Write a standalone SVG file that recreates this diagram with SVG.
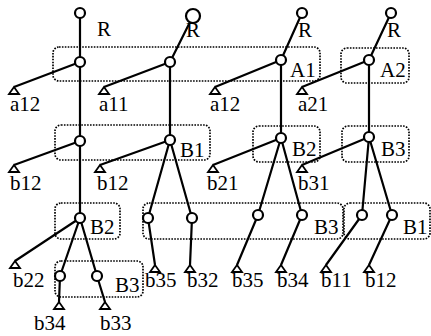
<svg xmlns="http://www.w3.org/2000/svg" xmlns:xlink="http://www.w3.org/1999/xlink" width="431" height="336" viewBox="0 0 431 336">
<style>
.box{fill:none;stroke:#000;stroke-width:1.7;stroke-dasharray:1.6 1.3}
.e{stroke:#000;stroke-width:2.2;fill:none}
.n{fill:#fff;stroke:#000;stroke-width:2.2}
.lf{fill:#fff;stroke:#000;stroke-width:1.8}
text{font-family:"Liberation Serif","Times New Roman",serif;font-size:21px;fill:#000}
</style>
<defs>
<path id="tri" class="lf" d="M0,0 L-5,7 L5,7 Z"/>
</defs>
<rect width="431" height="336" fill="#fff"/>
<g id="boxes">
<rect class="box" x="53" y="47" width="267" height="34" rx="6"/>
<rect class="box" x="341" y="48" width="68" height="35" rx="6"/>
<rect class="box" x="55" y="125" width="155" height="35" rx="6"/>
<rect class="box" x="253" y="126" width="67" height="36" rx="6"/>
<rect class="box" x="342" y="126" width="67" height="36" rx="6"/>
<rect class="box" x="55" y="203" width="65" height="36" rx="6"/>
<rect class="box" x="143" y="203" width="200" height="36" rx="6"/>
<rect class="box" x="344" y="203" width="86" height="36" rx="6"/>
<rect class="box" x="55" y="261" width="88" height="36" rx="6"/>
</g>
<g id="connectors">
<path class="e" d="M80,13V62M80,62L14,87M80,62V141M80,141L14,165M80,141V218M80,218L15,261M80,218L60,276M80,218L97,276M60,276L59,302M97,276L105,302"/>
<path class="e" d="M193,16L170,62M170,62L104,87M170,62V140M170,140L100,165M170,140L148,218M170,140L192,218M148,218L155,265M192,218L190,265"/>
<path class="e" d="M302,13L281,60M281,60L215,87M281,60V138M281,138L213,165M281,138L258,215M281,138L302,215M258,215L237,265M302,215L281,265"/>
<path class="e" d="M391,13L369,60M369,60L302,87M369,60V137M369,137L302,165M369,137L362,215M369,137L392,215M362,215L326,265M392,215L369,265"/>
</g>
<g id="tree1">
<circle class="n" cx="80" cy="13" r="5"/><text x="97" y="36">R</text>
<circle class="n" cx="80" cy="62" r="5"/>
<circle class="n" cx="80" cy="141" r="5"/>
<circle class="n" cx="80" cy="218" r="5"/><text x="90" y="234">B2</text>
<circle class="n" cx="60" cy="276" r="5"/>
<circle class="n" cx="97" cy="276" r="5"/><text x="115" y="292">B3</text>
<use xlink:href="#tri" x="14" y="87"/><text x="10" y="111">a12</text>
<use xlink:href="#tri" x="14" y="165"/><text x="10" y="190">b12</text>
<use xlink:href="#tri" x="15" y="261"/><text x="13" y="287">b22</text>
<use xlink:href="#tri" x="59" y="302"/><text x="34" y="330">b34</text>
<use xlink:href="#tri" x="105" y="302"/><text x="100" y="330">b33</text>
</g>
<g id="tree2">
<circle class="n" cx="193" cy="16" r="7"/><text x="186" y="37">R</text>
<circle class="n" cx="170" cy="62" r="5"/>
<circle class="n" cx="170" cy="140" r="5"/><text x="180" y="157">B1</text>
<circle class="n" cx="148" cy="218" r="5"/>
<circle class="n" cx="192" cy="218" r="5"/>
<use xlink:href="#tri" x="104" y="87"/><text x="99" y="111">a11</text>
<use xlink:href="#tri" x="100" y="165"/><text x="97" y="190">b12</text>
<use xlink:href="#tri" x="155" y="265"/><text x="145" y="287">b35</text>
<use xlink:href="#tri" x="190" y="265"/><text x="187" y="287">b32</text>
</g>
<g id="tree3">
<circle class="n" cx="302" cy="13" r="5"/><text x="298" y="37">R</text>
<circle class="n" cx="281" cy="60" r="5"/><text x="290" y="77">A1</text>
<circle class="n" cx="281" cy="138" r="5"/><text x="292" y="156">B2</text>
<circle class="n" cx="258" cy="215" r="5"/>
<circle class="n" cx="302" cy="215" r="5"/><text x="314" y="234">B3</text>
<use xlink:href="#tri" x="215" y="87"/><text x="210" y="111">a12</text>
<use xlink:href="#tri" x="213" y="165"/><text x="207" y="190">b21</text>
<use xlink:href="#tri" x="237" y="265"/><text x="232" y="287">b35</text>
<use xlink:href="#tri" x="281" y="265"/><text x="277" y="287">b34</text>
</g>
<g id="tree4">
<circle class="n" cx="391" cy="13" r="5"/><text x="387" y="37">R</text>
<circle class="n" cx="369" cy="60" r="5"/><text x="380" y="77">A2</text>
<circle class="n" cx="369" cy="137" r="5"/><text x="381" y="156">B3</text>
<circle class="n" cx="362" cy="215" r="5"/>
<circle class="n" cx="392" cy="215" r="5"/><text x="403" y="234">B1</text>
<use xlink:href="#tri" x="302" y="87"/><text x="298" y="111">a21</text>
<use xlink:href="#tri" x="302" y="165"/><text x="298" y="190">b31</text>
<use xlink:href="#tri" x="326" y="265"/><text x="321" y="287">b11</text>
<use xlink:href="#tri" x="369" y="265"/><text x="365" y="287">b12</text>
</g>
</svg>
